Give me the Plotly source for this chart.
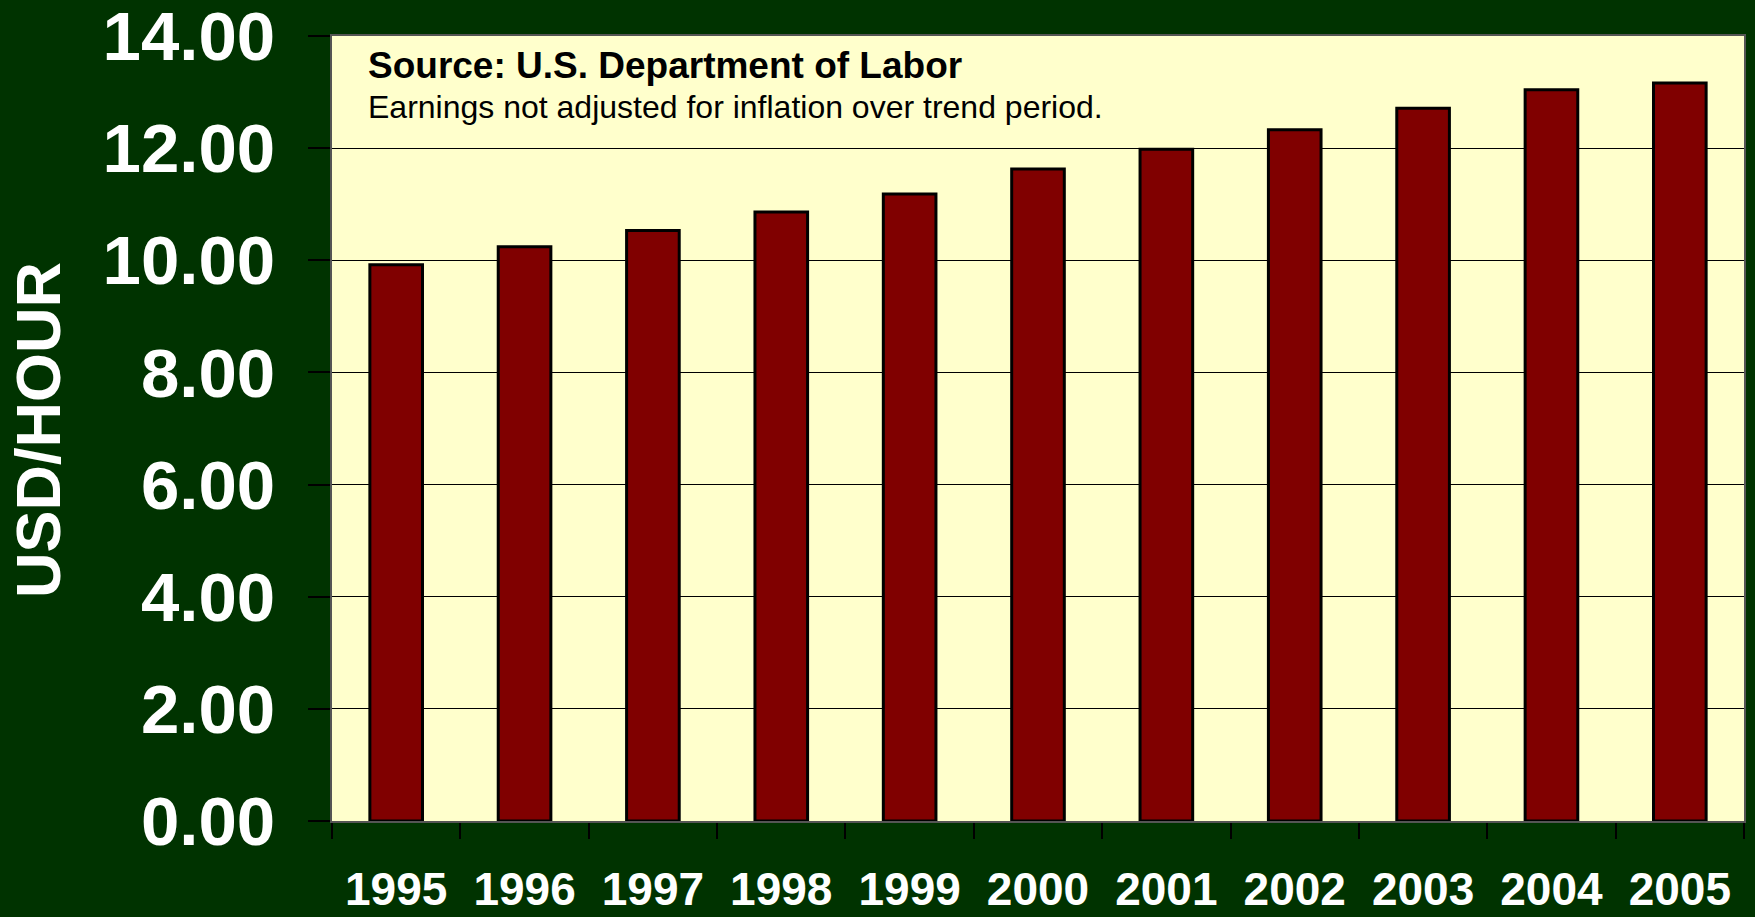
import plotly.graph_objects as go

years = ["1995", "1996", "1997", "1998", "1999", "2000", "2001", "2002", "2003", "2004", "2005"]
earnings = [9.92, 10.24, 10.53, 10.86, 11.18, 11.63, 11.98, 12.33, 12.71, 13.04, 13.16]
y_ticks = [0, 2, 4, 6, 8, 10, 12, 14]
y_tick_labels = ["0.00", "2.00", "4.00", "6.00", "8.00", "10.00", "12.00", "14.00"]

FONT = "Liberation Sans, Arial, sans-serif"

fig = go.Figure()
fig.add_trace(go.Bar(
    x=years, y=earnings,
    marker=dict(color="#800000", line=dict(color="#000000", width=3)),
    hoverinfo="x+y",
))

W, H = 1755, 917
L, R, T, B = 332, 11, 36, 96

fig.update_layout(
    width=W, height=H,
    margin=dict(l=L, r=R, t=T, b=B, pad=0, autoexpand=False),
    paper_bgcolor="#003300",
    plot_bgcolor="#FFFFCC",
    bargap=0.59,
    showlegend=False,
    font=dict(family=FONT, color="white"),
    xaxis=dict(
        type="category",
        automargin=False,
        tickson="boundaries",
        ticks="outside", ticklen=16, tickwidth=1.5, tickcolor="#000000",
        showline=True, linecolor="#555555", linewidth=2, mirror=True,
        showgrid=False,
        tickfont=dict(family=FONT, size=46, color="white", weight="bold"),
        ticklabelstandoff=27,
        ticklabeloverflow="allow",
    ),
    yaxis=dict(
        range=[0, 14],
        automargin=False,
        tickvals=y_ticks, ticktext=y_tick_labels,
        ticks="outside", ticklen=22, tickwidth=1.5, tickcolor="#000000",
        showline=True, linecolor="#555555", linewidth=2, mirror=True,
        showgrid=True, gridcolor="#000000", gridwidth=1,
        zeroline=False,
        tickfont=dict(family=FONT, size=69, color="white", weight="bold"),
        ticklabelstandoff=19,
        ticklabeloverflow="allow",
    ),
)

pw = W - L - R
ph = H - T - B

fig.add_annotation(
    text="USD/HOUR", textangle=-90,
    xref="paper", yref="paper",
    x=(38 - L) / pw, y=(H - B - 430) / ph,
    xanchor="center", yanchor="middle", showarrow=False,
    font=dict(family=FONT, size=63, color="white", weight="bold"),
)
fig.add_annotation(
    text="Source: U.S. Department of Labor",
    xref="paper", yref="paper",
    x=(366 - L) / pw, y=(H - B - 65) / ph,
    xanchor="left", yanchor="middle", showarrow=False,
    font=dict(family=FONT, size=37, color="black", weight="bold"),
)
fig.add_annotation(
    text="Earnings not adjusted for inflation over trend period.",
    xref="paper", yref="paper",
    x=(366 - L) / pw, y=(H - B - 107) / ph,
    xanchor="left", yanchor="middle", showarrow=False,
    font=dict(family=FONT, size=32, color="black"),
)

fig.write_html(
    "out.html",
    config={"displayModeBar": False},
    post_script="document.body.style.margin='0';document.body.style.overflow='hidden';",
)
